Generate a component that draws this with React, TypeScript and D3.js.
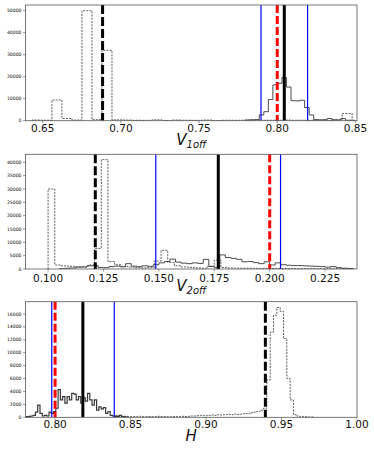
import React from 'react'
import * as d3 from 'd3'

const W = 374
const H = 449

// ---- panel 1 : V1off ----
const v1DashedStart = 0.6431
const v1DashedWidth = 0.0064
const v1Dashed = [
  300, 200, 9400, 1000, 300, 50000, 500, 32000, 400, 300, 200, 150, 400, 100, 300, 200,
  150, 300, 100, 200, 200, 300, 300, 200, 200, 300, 200, 200, 200, 100, 400, 3300
]
const v1SolidStart = 0.7798
const v1SolidWidth = 0.0029
const v1Solid = [
  300, 400, 500, 2600, 4100, 9600, 16300, 17000, 19600, 15300, 9100, 9000, 9300, 6000,
  2600, 500, 400, 500, 1000, 400, 300, 1000, 200, 200
]
const v1Marks = [0.6883, 0.7896, 0.8, 0.8045, 0.8194]
const v1Ticks = [0.65, 0.7, 0.75, 0.8, 0.85]
const v1YTicks = [0, 10000, 20000, 30000, 40000, 50000]

// ---- panel 2 : V2off ----
const v2DashedStart = 0.1
const v2DashedWidth = 0.003
const v2Dashed = [
  30000, 1500, 1200, 1000, 800, 700, 1500, 7700, 41000, 2800, 1600, 1000, 700, 500, 400,
  600, 3000, 7000, 2500, 1200, 800, 600, 400, 300, 1000, 3300, 600, 400, 300, 300, 300,
  250, 250, 200, 200, 200, 150, 150, 150, 100, 100, 100, 100, 100, 100, 100
]
const v2SolidStart = 0.105
const v2SolidWidth = 0.0025
const v2Solid = [
  100, 300, 400, 700, 800, 1200, 1300, 600, 500, 900, 1100, 800, 2000, 1100, 900, 1200,
  1000, 1600, 2300, 2800, 3700, 2600, 2200, 2000, 2300, 2100, 3600, 1000, 500, 5300,
  4300, 4000, 3600, 2700, 2800, 2400, 2000, 2700, 1500, 2300, 1600, 1400, 1300, 1300,
  1200, 1100, 1000, 900, 700, 900, 500, 300, 200
]
const v2Marks = [0.1213, 0.1486, 0.2, 0.1768, 0.2049]
const v2Ticks = [0.1, 0.125, 0.15, 0.175, 0.2, 0.225]
const v2YTicks = [0, 5000, 10000, 15000, 20000, 25000, 30000, 35000, 40000]

// ---- panel 3 : H ----
const hDashedStart = 0.8391
const hDashedWidth = 0.0022
const hDashed = [
  300, 200, 150, 150, 100, 100, 100, 150, 100, 100, 120, 100, 100, 150, 100, 120, 100,
  100, 130, 100, 150, 120, 150, 200, 200, 250, 300, 250, 300, 350, 300, 400, 350, 400,
  450, 400, 500, 450, 500, 600, 550, 700, 800, 900, 1100, 1400, 5800, 13200, 15800,
  17000, 16400, 12200, 6000, 2700, 400, 200, 100, 100, 50, 50
]
const hSolidStart = 0.781
const hSolidWidth = 0.0015
const hSolid = [
  100, 150, 200, 300, 800, 1900, 600, 200, 300, 200, 800, 600, 900, 1400, 4300, 2700,
  3200, 2200, 3200, 2700, 3700, 3600, 2700, 3200, 2200, 3000, 2500, 3700, 2700, 1900,
  2700, 1100, 1600, 1300, 1500, 600, 900, 300, 200, 100, 150, 300, 100, 80, 50
]
const hMarks = [0.9393, 0.7978, 0.8, 0.8184, 0.8392]
const hTicks = [0.8, 0.85, 0.9, 0.95, 1.0]
const hYTicks = [0, 2000, 4000, 6000, 8000, 10000, 12000, 14000, 16000]

// order of the marks in each *Marks array
const markKinds = ['start', 'lo', 'true', 'best', 'hi']

const markStyle: Record<string, any> = {
  start: { stroke: '#000', width: 3, dash: '9 3' },
  lo: { stroke: '#0000ff', width: 1.2, dash: null },
  hi: { stroke: '#0000ff', width: 1.2, dash: null },
  true: { stroke: '#ff0000', width: 3, dash: '8 3' },
  best: { stroke: '#000', width: 3, dash: null }
}

const left = 25.5
const right = 357

function stepPath(start: number, width: number, values: number[], x: any, y: any) {
  let p = `M${x(start)},${y(0)}`
  values.forEach((v, i) => {
    const x0 = x(start + i * width)
    const x1 = x(start + (i + 1) * width)
    p += `L${x0},${y(v)}L${x1},${y(v)}`
  })
  p += `L${x(start + values.length * width)},${y(0)}`
  return p
}

function Panel(props: any) {
  const { id, top, bottom, xDomain, yMax, xTicks, yTicks, xFmt, dashed, solid, solidW, marks, label, sub, labelY, tickY } = props
  const x = d3.scaleLinear().domain(xDomain).range([left, right])
  const y = d3.scaleLinear().domain([0, yMax]).range([bottom, top])
  const fmt = d3.format(xFmt)
  return (
    <g>
      <defs>
        <clipPath id={id}>
          <rect x={left} y={top} width={right - left} height={bottom - top} />
        </clipPath>
      </defs>
      <g clipPath={`url(#${id})`}>
        <path d={stepPath(dashed[0], dashed[1], dashed[2], x, y)} fill="none" stroke="#333" strokeWidth={0.8} strokeDasharray="2 1.2" />
        <path d={stepPath(solid[0], solid[1], solid[2], x, y)} fill="none" stroke="#3a3a3a" strokeWidth={solidW} />
        {marks.map((m: number, i: number) => {
          const s = markStyle[markKinds[i]]
          return (
            <line key={i} x1={x(m)} x2={x(m)} y1={top} y2={bottom} stroke={s.stroke} strokeWidth={s.width}
              strokeDasharray={s.dash || undefined} />
          )
        })}
      </g>
      <rect x={left} y={top} width={right - left} height={bottom - top} fill="none" stroke="#555" strokeWidth={0.8} />
      {yTicks.map((t: number) => (
        <g key={t}>
          <line x1={left - 2.5} x2={left} y1={y(t)} y2={y(t)} stroke="#555" strokeWidth={0.6} />
          <text x={left - 4} y={y(t)} dy="0.35em" textAnchor="end" fontSize={4.6} fontFamily="DejaVu Sans" fill="#111">
            {d3.format('d')(t)}
          </text>
        </g>
      ))}
      {xTicks.map((t: number) => (
        <g key={t}>
          <line x1={x(t)} x2={x(t)} y1={bottom} y2={bottom + 2.5} stroke="#555" strokeWidth={0.6} />
          <text x={x(t)} y={tickY} textAnchor="middle" fontSize={10.5} fontFamily="DejaVu Sans" fill="#111">
            {fmt(t)}
          </text>
        </g>
      ))}
      <text x={(left + right) / 2} y={labelY} textAnchor="middle" fontFamily="DejaVu Sans" fontStyle="italic" fill="#111">
        <tspan fontSize={15}>{label}</tspan>
        {sub && <tspan fontSize={10} dy={3}>{sub}</tspan>}
      </text>
    </g>
  )
}

export default function App() {
  return (
    <svg width={W} height={H} style={{ position: 'absolute', left: 0, top: 0, background: '#fff' }}>
      <Panel id="c1" top={5} bottom={120.7} xDomain={[0.639, 0.851]} yMax={52600}
        xTicks={v1Ticks} yTicks={v1YTicks} xFmt=".2f"
        dashed={[v1DashedStart, v1DashedWidth, v1Dashed]} solid={[v1SolidStart, v1SolidWidth, v1Solid]} solidW={0.9}
        marks={v1Marks} label="V" sub="1off" labelY={144.5} tickY={132} />
      <Panel id="c2" top={154.3} bottom={269} xDomain={[0.0898, 0.2394]} yMax={43000}
        xTicks={v2Ticks} yTicks={v2YTicks} xFmt=".3f"
        dashed={[v2DashedStart, v2DashedWidth, v2Dashed]} solid={[v2SolidStart, v2SolidWidth, v2Solid]} solidW={0.9}
        marks={v2Marks} label="V" sub="2off" labelY={291} tickY={281.5} />
      <Panel id="c3" top={301.7} bottom={417.3} xDomain={[0.7804, 1.0]} yMax={17900}
        xTicks={hTicks} yTicks={hYTicks} xFmt=".2f"
        dashed={[hDashedStart, hDashedWidth, hDashed]} solid={[hSolidStart, hSolidWidth, hSolid]} solidW={1.2}
        marks={hMarks} label="H" sub={null} labelY={441} tickY={428} />
    </svg>
  )
}
